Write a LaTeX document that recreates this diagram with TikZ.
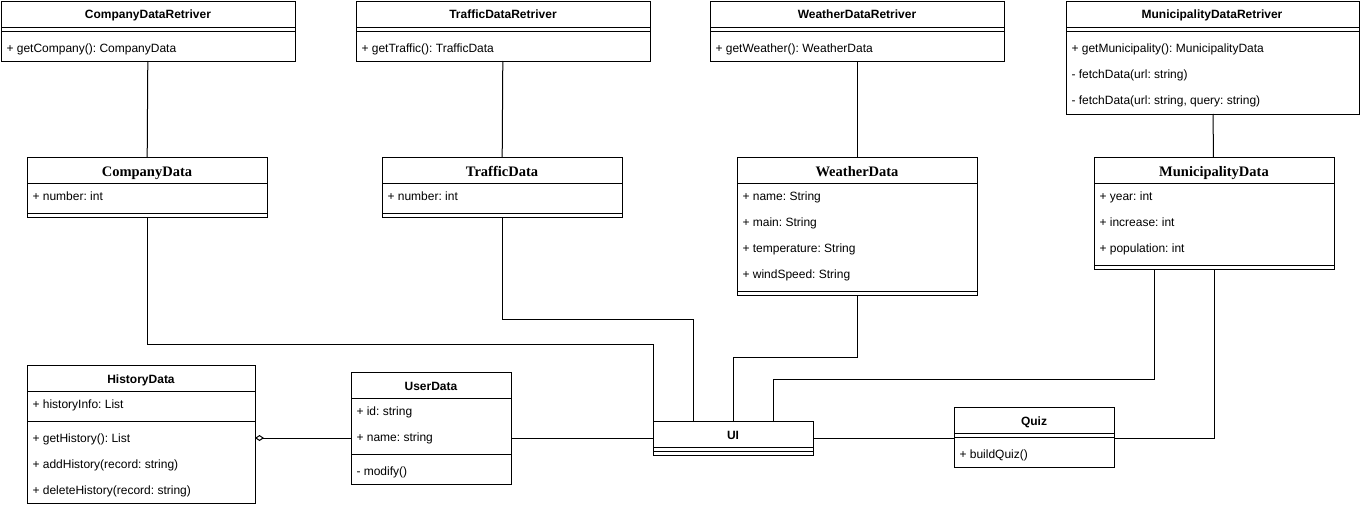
\documentclass[tikz,border=0pt]{standalone}
\usepackage{fontspec}
\setmainfont{Liberation Sans}
\newfontfamily\serifhead{Liberation Serif}
\usetikzlibrary{arrows.meta}
\frenchspacing

\tikzset{
  box/.style={draw, line width=1pt, anchor=north west, inner sep=0pt, outer sep=0pt},
  ttl/.style={anchor=base, inner sep=0pt, font=\fontsize{12}{14}\selectfont\bfseries},
  sttl/.style={anchor=base, inner sep=0pt, font=\serifhead\fontsize{14.5}{16}\selectfont\bfseries},
  mem/.style={anchor=base west, inner sep=0pt, font=\fontsize{12}{14}\selectfont},
  aggr/.style={{Diamond[open,length=9pt,width=6pt]}-},
}

\begin{document}
\begin{tikzpicture}[x=1pt, y=-1pt, line width=1pt]
        \useasboundingbox (0,0) rectangle (1361,506);

        % retrievers
        \node[box, minimum width=294pt, minimum height=60pt] (cdr) at (1,1) {};
        \node[ttl] (cdrT) at (148,19) {CompanyDataRetriver};
        \draw (1,27) -- (295,27);
        \draw (1,31) -- (295,31);
        \node[mem] (cdrM1) at (6,52) {+ getCompany(): CompanyData};

        \node[box, minimum width=294pt, minimum height=60pt] (tdr) at (356,1) {};
        \node[ttl] (tdrT) at (503,19) {TrafficDataRetriver};
        \draw (356,27) -- (650,27);
        \draw (356,31) -- (650,31);
        \node[mem] (tdrM1) at (361,52) {+ getTraffic(): TrafficData};

        \node[box, minimum width=294pt, minimum height=60pt] (wdr) at (710,1) {};
        \node[ttl] (wdrT) at (857,19) {WeatherDataRetriver};
        \draw (710,27) -- (1004,27);
        \draw (710,31) -- (1004,31);
        \node[mem] (wdrM1) at (715,52) {+ getWeather(): WeatherData};

        \node[box, minimum width=293pt, minimum height=113pt] (mdr) at (1066,1) {};
        \node[ttl] (mdrT) at (1212,19) {MunicipalityDataRetriver};
        \draw (1066,27) -- (1359,27);
        \draw (1066,31) -- (1359,31);
        \node[mem] (mdrM1) at (1071,52) {+ getMunicipality(): MunicipalityData};
        \node[mem] (mdrM2) at (1071,78) {- fetchData(url: string)};
        \node[mem] (mdrM3) at (1071,104) {- fetchData(url: string, query: string)};

        % data classes
        \node[box, minimum width=240pt, minimum height=60pt] (cd) at (27,157) {};
        \node[sttl] (cdT) at (147,176) {CompanyData};
        \draw (27,183) -- (267,183);
        \node[mem] (cdM1) at (32,200) {+ number: int};
        \draw (27,213) -- (267,213);

        \node[box, minimum width=240pt, minimum height=60pt] (td) at (382,157) {};
        \node[sttl] (tdT) at (502,176) {TrafficData};
        \draw (382,183) -- (622,183);
        \node[mem] (tdM1) at (387,200) {+ number: int};
        \draw (382,213) -- (622,213);

        \node[box, minimum width=240pt, minimum height=138pt] (wd) at (737,157) {};
        \node[sttl] (wdT) at (857,176) {WeatherData};
        \draw (737,183) -- (977,183);
        \node[mem] (wdM1) at (742,200) {+ name: String};
        \node[mem] (wdM2) at (742,226) {+ main: String};
        \node[mem] (wdM3) at (742,252) {+ temperature: String};
        \node[mem] (wdM4) at (742,278) {+ windSpeed: String};
        \draw (737,291) -- (977,291);

        \node[box, minimum width=240pt, minimum height=112pt] (md) at (1094,157) {};
        \node[sttl] (mdT) at (1214,176) {MunicipalityData};
        \draw (1094,183) -- (1334,183);
        \node[mem] (mdM1) at (1099,200) {+ year: int};
        \node[mem] (mdM2) at (1099,226) {+ increase: int};
        \node[mem] (mdM3) at (1099,252) {+ population: int};
        \draw (1094,265) -- (1334,265);

        % lower row
        \node[box, minimum width=228pt, minimum height=138pt] (hd) at (27,365) {};
        \node[ttl] (hdT) at (141,383) {HistoryData};
        \draw (27,391) -- (255,391);
        \node[mem] (hdM1) at (32,408) {+ historyInfo: List};
        \draw (27,421) -- (255,421);
        \node[mem] (hdM2) at (32,442) {+ getHistory(): List};
        \node[mem] (hdM3) at (32,468) {+ addHistory(record: string)};
        \node[mem] (hdM4) at (32,494) {+ deleteHistory(record: string)};

        \node[box, minimum width=160pt, minimum height=112pt] (ud) at (351,372) {};
        \node[ttl] (udT) at (431,390) {UserData};
        \draw (351,398) -- (511,398);
        \node[mem] (udM1) at (356,415) {+ id: string};
        \node[mem] (udM2) at (356,441) {+ name: string};
        \draw (351,454) -- (511,454);
        \node[mem] (udM3) at (356,475) {- modify()};

        \node[box, minimum width=160pt, minimum height=34pt] (ui) at (653,421) {};
        \node[ttl] (uiT) at (733,439) {UI};
        \draw (653,447) -- (813,447);
        \draw (653,451) -- (813,451);

        \node[box, minimum width=160pt, minimum height=60pt] (qz) at (954,407) {};
        \node[ttl] (qzT) at (1034,425) {Quiz};
        \draw (954,433) -- (1114,433);
        \draw (954,437) -- (1114,437);
        \node[mem] (qzM1) at (959,458) {+ buildQuiz()};

        % connectors
        \draw (cdr) -- (cd);
        \draw (tdr) -- (td);
        \draw (wdr) -- (wd);
        \draw (mdr) -- (md);
        \draw (cd.south) -- ++(0,127) -| (ui.north west);
        \draw (td.south) -- ++(0,102) -| ([xshift=-40pt]ui.north);
        \draw (wd.south) -- ++(0,62) -| (ui.north);
        \draw ([xshift=-60pt]md.south) -- ++(0,110) -| ([xshift=40pt]ui.north);
        \draw[aggr] (hd.east |- ui.west) -- (ud.west |- ui.west);
        \draw (ud.east |- ui.west) -- (ui.west);
        \draw (ui.east) -- (qz.west |- ui.east);
        \draw (qz.east |- ui.east) -| (md.south);
    \end{tikzpicture}
\end{document}
